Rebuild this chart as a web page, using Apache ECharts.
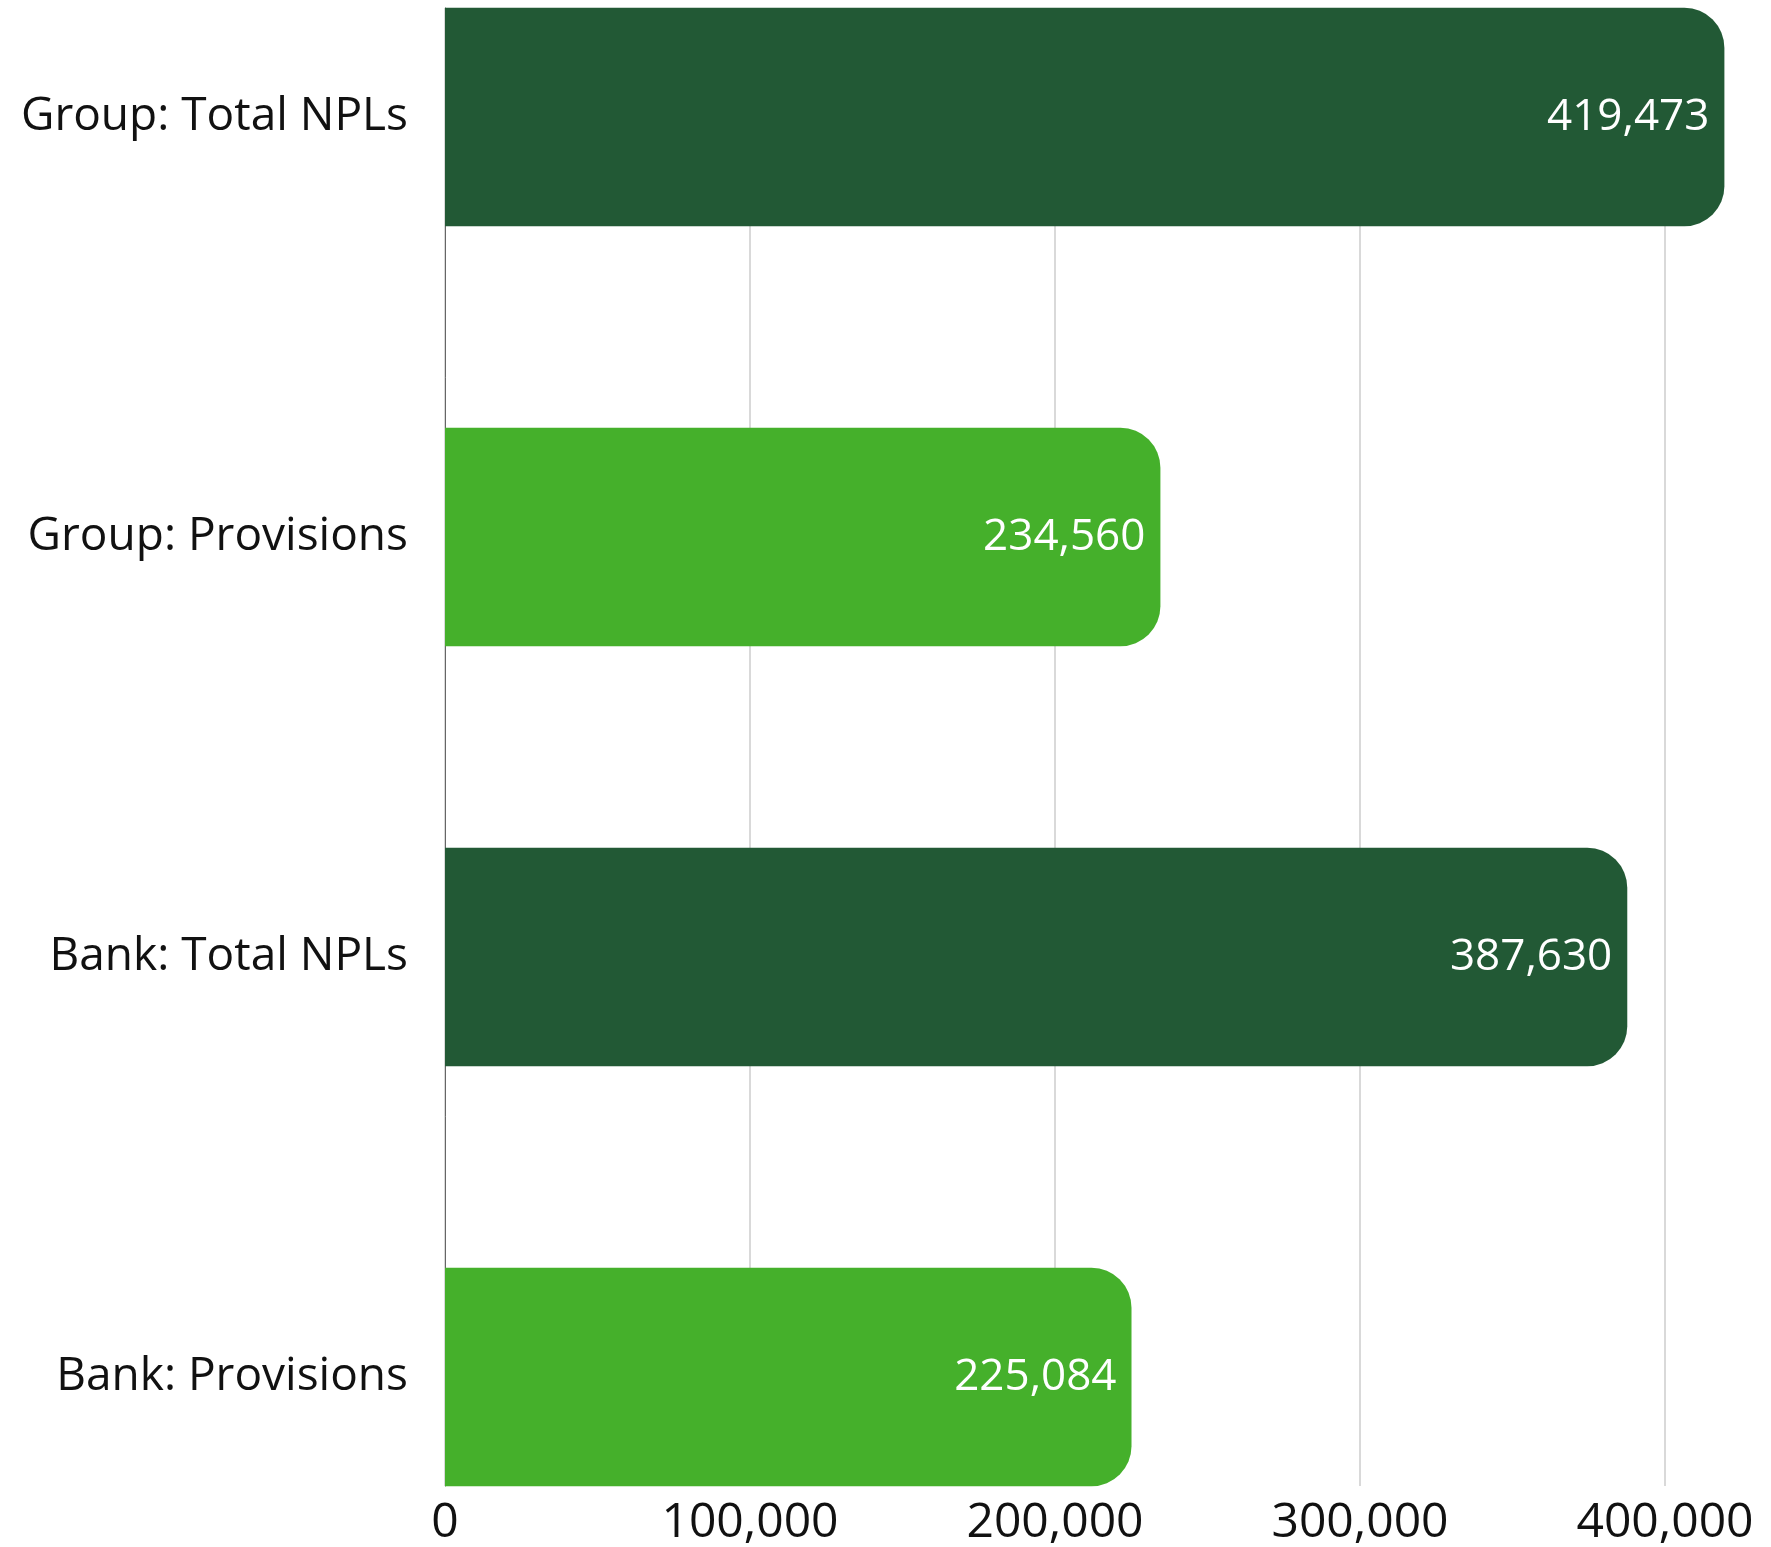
<!DOCTYPE html>
<html>
<head>
<meta charset="utf-8">
<script src="https://cdn.jsdelivr.net/npm/echarts@6/dist/echarts.min.js"></script>
<style>
  html, body { margin: 0; padding: 0; background: #fff; }
  #chart { width: 1771px; height: 1547px; }
</style>
</head>
<body>
<div id="chart"></div>
<script>
const categories = ['Group: Total NPLs', 'Group: Provisions', 'Bank: Total NPLs', 'Bank: Provisions']
const values = [419473, 234560, 387630, 225084]
const xTicks = { min: 0, max: 400000, interval: 100000 }

const barColors = ['#225935', '#45b02b', '#225935', '#45b02b']
const font = 'Open Sans'
const fmt = v => v.toLocaleString('en-US')

const chart = echarts.init(document.getElementById('chart'))
chart.setOption({
  animation: false,
  textStyle: { fontFamily: font },
  grid: [
    // grid lines + axis (spans first bar top to last bar bottom)
    { left: 445, right: 106, top: 8, height: 1478, outerBoundsMode: 'none' },
    // bars: outer bands overflow so bars touch the edges
    { left: 445, right: 106, top: -93, height: 1680, outerBoundsMode: 'none' },
  ],
  xAxis: [
    { gridIndex: 0, type: 'value', ...xTicks,
      axisLine: { show: false }, axisTick: { show: false },
      splitLine: { lineStyle: { color: '#cccccc', width: 1.5 } },
      axisLabel: { color: '#111', fontSize: 48, margin: 13, fontFamily: font,
        formatter: v => fmt(v) } },
    { gridIndex: 1, type: 'value', ...xTicks, show: false },
  ],
  yAxis: [
    { gridIndex: 0, type: 'category', data: categories, inverse: true,
      axisLine: { show: true, lineStyle: { color: '#666', width: 1 } },
      axisTick: { show: false }, axisLabel: { show: false }, splitLine: { show: false } },
    { gridIndex: 1, type: 'category', data: categories, inverse: true,
      axisLine: { show: false }, axisTick: { show: false },
      axisLabel: { color: '#111', fontSize: 46, margin: 37, fontFamily: font } },
  ],
  series: [{
    type: 'bar',
    xAxisIndex: 1, yAxisIndex: 1,
    clip: false,
    barCategoryGap: '48%',
    data: values.map((v, i) => ({ value: v, itemStyle: { color: barColors[i] } })),
    itemStyle: { borderRadius: [0, 40, 40, 0] },
    label: {
      show: true, position: 'insideRight', distance: 15,
      color: '#fff', fontSize: 44, fontFamily: font,
      formatter: p => fmt(p.value),
    },
  }],
})
</script>
</body>
</html>
